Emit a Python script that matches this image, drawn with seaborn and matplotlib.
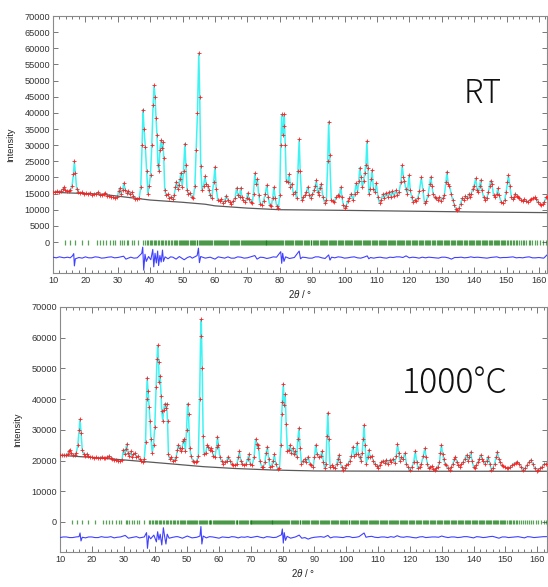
import numpy as np
import pandas as pd
import matplotlib
matplotlib.use("Agg")
import matplotlib.pyplot as plt
import seaborn as sns
from matplotlib.ticker import MultipleLocator

# ---------------- data (2theta in degrees, intensity in thousands of counts) -------------
rt_x = [10.0, 10.6, 11.2, 11.8, 12.4, 13.0, 13.4, 13.8, 14.3, 14.8, 15.4, 15.9, 16.3, 16.6, 16.9, 17.3,
        17.8, 18.4, 19.0, 19.6, 20.2, 20.8, 21.4, 22.0, 22.6, 23.2, 23.8, 24.4, 25.0, 25.6, 26.2, 26.8,
        27.4, 28.0, 28.6, 29.2, 29.8, 30.3, 30.6, 31.0, 31.5, 31.9, 32.3, 32.8, 33.3, 33.8, 34.3, 34.8,
        35.4, 36.0, 36.6, 37.1, 37.5, 37.8, 38.1, 38.5, 38.9, 39.3, 39.7, 40.1, 40.5, 40.9, 41.2, 41.5,
        41.8, 42.1, 42.4, 42.7, 43.0, 43.3, 43.6, 43.9, 44.2, 44.5, 44.9, 45.4, 45.9, 46.4, 46.9, 47.4,
        47.8, 48.1, 48.5, 48.8, 49.2, 49.5, 49.9, 50.3, 50.7, 51.0, 51.4, 51.8, 52.3, 52.8, 53.3, 53.8,
        54.2, 54.6, 55.0, 55.3, 55.6, 56.0, 56.5, 56.9, 57.3, 57.7, 58.1, 58.5, 59.0, 59.6, 60.0, 60.4,
        60.9, 61.4, 61.9, 62.5, 63.0, 63.5, 64.0, 64.5, 65.0, 65.6, 66.2, 66.7, 67.1, 67.6, 67.9, 68.3,
        68.8, 69.4, 69.8, 70.1, 70.5, 71.0, 71.5, 71.9, 72.3, 72.7, 73.1, 73.5, 74.0, 74.5, 75.0, 75.5,
        76.0, 76.4, 76.9, 77.4, 77.8, 78.2, 78.6, 79.1, 79.6, 80.0, 80.3, 80.6, 80.9, 81.2, 81.4, 81.7,
        82.0, 82.4, 82.9, 83.3, 83.7, 84.2, 84.7, 85.2, 85.6, 86.0, 86.3, 86.8, 87.3, 87.8, 88.2, 88.7,
        89.1, 89.6, 90.1, 90.6, 91.0, 91.3, 91.7, 92.0, 92.3, 92.8, 93.3, 93.9, 94.4, 94.8, 95.1, 95.4,
        95.9, 96.4, 96.9, 97.4, 97.9, 98.4, 98.8, 99.2, 99.6, 100.0, 100.5, 101.0, 101.5, 102.1, 102.6,
        103.1, 103.6, 104.0, 104.4, 104.7, 105.1, 105.5, 105.9, 106.2, 106.6, 106.9, 107.2, 107.5, 107.9,
        108.2, 108.5, 108.9, 109.4, 109.8, 110.3, 110.8, 111.3, 111.8, 112.3, 112.8, 113.3, 113.8, 114.3,
        114.8, 115.3, 115.8, 116.3, 116.8, 117.4, 117.8, 118.2, 118.5, 118.9, 119.4, 119.9, 120.3, 120.7,
        121.1, 121.6, 122.1, 122.6, 123.1, 123.7, 124.2, 124.7, 125.2, 125.8, 126.3, 126.6, 127.0, 127.3,
        127.8, 128.3, 128.8, 129.3, 129.8, 130.3, 130.8, 131.3, 131.6, 132.0, 132.4, 132.9, 133.4, 133.9,
        134.4, 134.8, 135.3, 135.8, 136.3, 136.8, 137.3, 137.8, 138.3, 138.7, 139.1, 139.6, 140.0, 140.5,
        140.9, 141.3, 141.7, 142.0, 142.4, 142.9, 143.4, 143.9, 144.4, 144.8, 145.1, 145.5, 146.0, 146.5,
        147.0, 147.3, 147.7, 148.3, 148.9, 149.4, 149.9, 150.3, 150.6, 151.0, 151.5, 152.0, 152.3, 152.7,
        153.2, 153.6, 154.0, 154.5, 155.0, 155.5, 156.0, 156.6, 157.1, 157.6, 158.1, 158.7, 159.2, 159.7,
        160.2, 160.7, 161.2, 161.7, 162.2, 162.6]
rt_y = [15.6, 15.5, 15.7, 15.6, 15.8, 16.4, 17.0, 16.2, 15.8, 15.7, 16.0, 17.5, 21.0, 25.0, 21.5, 16.5,
        15.6, 15.2, 15.4, 14.9, 15.1, 14.8, 15.3, 14.7, 14.8, 14.9, 15.4, 14.6, 14.5, 14.9, 15.2, 14.4,
        14.3, 14.0, 13.8, 13.7, 13.9, 15.8, 16.7, 15.0, 16.2, 18.3, 16.0, 15.3, 15.8, 14.9, 15.4, 14.3,
        13.4, 13.2, 13.6, 17.0, 30.0, 41.0, 35.0, 29.5, 22.0, 15.0, 17.5, 20.7, 30.0, 42.5, 48.5, 45.0,
        38.5, 33.0, 24.0, 22.0, 28.5, 31.5, 29.0, 31.0, 26.0, 16.0, 14.5, 14.8, 13.6, 13.9, 13.2, 14.5,
        17.0, 18.7, 16.5, 17.8, 19.5, 21.5, 17.0, 22.0, 30.5, 24.0, 16.0, 14.8, 15.2, 13.9, 13.5, 17.5,
        28.5, 40.0, 58.5, 45.0, 23.5, 16.0, 17.5, 20.3, 18.0, 17.2, 16.0, 14.5, 13.5, 18.5, 23.3, 16.5,
        13.0, 12.8, 13.2, 12.2, 12.8, 14.4, 13.0, 12.4, 11.8, 12.6, 13.5, 16.8, 14.5, 13.8, 16.8, 14.0,
        12.9, 12.4, 13.5, 15.2, 13.2, 12.5, 12.0, 15.0, 21.3, 18.0, 19.5, 14.5, 11.8, 11.6, 12.8, 14.8,
        17.6, 14.0, 11.4, 11.2, 13.5, 17.0, 13.5, 11.0, 10.6, 14.5, 30.0, 39.5, 33.0, 36.0, 39.5, 30.0,
        19.0, 18.5, 21.0, 17.0, 18.0, 15.0, 15.5, 13.5, 22.0, 31.8, 22.0, 13.0, 13.8, 14.5, 15.5, 17.1,
        14.5, 13.6, 14.8, 16.0, 17.5, 19.2, 15.5, 14.5, 16.8, 18.0, 14.0, 12.0, 13.0, 25.0, 37.3, 27.0,
        13.0, 12.8, 12.5, 13.8, 14.5, 14.2, 17.0, 14.0, 11.5, 10.6, 11.2, 12.8, 13.5, 15.0, 13.0,
        15.0, 18.2, 15.5, 19.0, 23.0, 20.0, 17.0, 19.0, 21.3, 24.0, 31.3, 23.0, 15.0, 16.5,
        19.5, 22.3, 16.5, 15.5, 18.2, 14.0, 12.0, 13.0, 14.8, 13.5, 15.2, 14.0, 15.6, 13.8,
        15.8, 14.2, 16.0, 14.5, 15.5, 18.5, 23.8, 20.0, 19.0, 16.5, 15.0, 20.7, 16.0, 14.0,
        12.5, 13.0, 12.8, 13.5, 15.8, 20.0, 16.0, 12.0, 12.6, 14.5, 18.0, 20.2, 17.5, 15.0,
        14.0, 13.5, 13.0, 13.8, 12.8, 13.5, 14.5, 18.5, 21.8, 18.0, 17.5, 15.0, 13.0, 11.5,
        10.2, 9.9, 10.5, 11.8, 13.5, 13.0, 14.2, 13.5, 14.8, 14.0, 15.0, 16.5, 17.5, 19.7,
        16.0, 15.5, 17.5, 19.2, 16.0, 14.0, 13.0, 13.5, 15.5, 17.5, 19.0, 18.0, 14.5, 13.8,
        15.0, 16.6, 14.5, 12.5, 12.0, 13.0, 15.5, 18.5, 20.7, 17.5, 14.0, 13.2, 14.0, 15.0,
        14.2, 13.8, 13.5, 13.0, 12.6, 13.2, 12.8, 12.5, 12.9, 13.3, 13.6, 13.8, 13.3, 12.5,
        11.8, 11.5, 11.8, 12.5, 13.8, 14.0]

rt_bg_x = [10, 20, 25, 30, 35, 40, 50, 57, 60, 70, 76, 80, 90, 100, 120, 140, 162.5]
rt_bg_y = [15.4, 15.0, 14.8, 14.2, 13.6, 13.0, 12.3, 11.7, 11.2, 10.5, 10.2, 10.0, 9.9, 9.8, 9.55, 9.3, 9.1]

rt_diff_x = [10, 11, 12, 13.4, 14.5, 15.3, 16.0, 16.4, 16.6, 16.9, 18, 19, 20, 21, 22, 23, 24, 25, 26, 27,
             28, 29, 30, 31.8, 32.5, 34, 35, 36, 37.4, 37.7, 38.0, 38.4, 38.8, 39.5, 40.2, 40.8, 41.1,
             41.5, 41.9, 42.3, 42.6, 43.0, 43.4, 43.8, 44.1, 44.6, 45.5, 46.3, 47, 48, 49, 50.5, 51.5,
             52.3, 53, 54.5, 54.9, 55.2, 55.6, 57, 58.5, 60, 61, 62, 63, 64, 65, 66, 67, 68, 69, 70, 71,
             72.3, 73, 74, 75, 76, 77, 78, 79, 80.3, 80.6, 80.9, 81.3, 81.8, 83, 84.5, 86.0, 86.4, 87,
             88, 89, 90, 91, 92, 93, 94, 95.1, 95.5, 96, 97, 98, 99, 100, 101, 102, 103, 104, 105, 106,
             107, 107.5, 108, 109, 110, 111, 112, 113, 114, 115, 116, 117, 118, 119, 120, 121, 122, 123,
             124, 125, 126, 127, 128, 129, 130, 131, 132, 133, 134, 135, 136, 137, 138, 139, 140, 141,
             142, 143, 144, 145, 146, 147, 148, 149, 150, 151, 152, 153, 154, 155, 156, 157, 158, 159,
             160, 161.5, 162.5]
rt_diff_y = [-4.7, -4.9, -4.6, -4.9, -4.7, -4.9, -4.3, -3.6, -7.4, -5.2, -4.8, -5.0, -4.6, -4.9, -4.9,
             -4.6, -4.7, -5.0, -4.9, -4.7, -4.6, -4.9, -4.8, -4.4, -5.3, -4.7, -5.0, -4.9, -3.5, -1.6,
             -8.7, -3.8, -6.0, -4.5, -5.5, -2.3, -7.7, -3.5, -6.5, -2.8, -7.3, -4.2, -6.2, -2.5, -6.0,
             -4.6, -5.2, -4.6, -4.7, -5.3, -4.5, -5.5, -4.8, -4.5, -5.0, -4.2, -1.9, -6.4, -4.5, -5.0,
             -4.7, -5.3, -4.6, -4.8, -5.0, -4.6, -5.0, -5.0, -4.6, -4.7, -5.0, -4.9, -4.6, -4.2, -5.3,
             -4.7, -4.8, -5.1, -4.9, -4.6, -4.7, -3.0, -6.6, -3.5, -6.0, -4.6, -5.1, -4.8, -2.8, -5.2,
             -4.7, -4.8, -5.0, -5.0, -4.6, -4.6, -4.9, -5.1, -4.0, -5.6, -4.7, -4.9, -4.6, -4.7, -5.0,
             -4.9, -4.7, -4.6, -4.9, -5.0, -4.7, -4.3, -5.2, -4.8, -5.0, -4.8, -4.7, -4.9, -5.0, -4.7,
             -4.8, -4.6, -4.6, -4.8, -4.3, -4.9, -4.7, -4.8, -5.0, -4.7, -4.9, -4.7, -4.8, -4.9, -5.0,
             -4.7, -4.7, -4.9, -5.3, -4.8, -4.8, -4.7, -4.9, -4.8, -4.6, -4.8, -4.7, -4.8, -4.9, -5.0,
             -4.8, -4.7, -4.6, -4.9, -4.8, -4.8, -4.7, -4.6, -4.9, -4.8, -4.9, -4.7, -4.6, -4.9, -4.9,
             -4.8, -5.0, -4.0]

ht_x = [10.0, 10.6, 11.2, 11.8, 12.4, 12.8, 13.1, 13.5, 14.0, 14.6, 15.1, 15.6, 16.0, 16.3, 16.6, 17.0,
        17.5, 18.0, 18.4, 18.9, 19.5, 20.1, 20.7, 21.3, 21.9, 22.5, 23.1, 23.7, 24.3, 24.9, 25.4, 25.9,
        26.5, 27.1, 27.7, 28.3, 28.9, 29.5, 29.9, 30.3, 30.7, 31.0, 31.4, 31.8, 32.2, 32.6, 33.1, 33.6,
        34.0, 34.5, 35.0, 35.5, 36.0, 36.5, 36.9, 37.2, 37.4, 37.7, 38.0, 38.3, 38.6, 39.0, 39.4, 39.8,
        40.2, 40.5, 40.7, 41.0, 41.2, 41.5, 41.8, 42.0, 42.3, 42.6, 42.9, 43.2, 43.5, 43.8, 44.1, 44.5,
        45.0, 45.5, 46.0, 46.5, 46.9, 47.2, 47.6, 48.0, 48.4, 48.7, 49.1, 49.4, 49.8, 50.1, 50.4, 50.8,
        51.2, 51.7, 52.2, 52.6, 53.0, 53.5, 53.9, 54.2, 54.4, 54.7, 55.0, 55.3, 55.8, 56.3, 56.6, 57.0,
        57.4, 57.8, 58.2, 58.7, 59.2, 59.5, 59.8, 60.3, 60.8, 61.3, 61.8, 62.4, 62.9, 63.4, 64.0, 64.5,
        65.0, 65.6, 66.1, 66.4, 66.8, 67.3, 68.0, 68.5, 69.0, 69.4, 69.8, 70.4, 71.0, 71.5, 71.8, 72.1,
        72.4, 72.8, 73.4, 73.9, 74.4, 74.8, 75.2, 75.6, 76.0, 76.5, 77.0, 77.4, 77.8, 78.5, 79.0, 79.4,
        79.7, 79.9, 80.2, 80.5, 80.8, 81.1, 81.5, 81.9, 82.3, 82.7, 83.2, 83.6, 83.9, 84.4, 84.8, 85.1,
        85.5, 85.9, 86.4, 86.9, 87.4, 88.0, 88.5, 89.0, 89.6, 90.0, 90.4, 90.8, 91.4, 91.9, 92.4, 92.8,
        93.2, 93.6, 93.9, 94.2, 94.5, 94.9, 95.4, 95.9, 96.4, 97.0, 97.4, 97.7, 98.1, 98.5, 99.0, 99.5,
        100.0, 100.6, 101.1, 101.6, 102.1, 102.5, 103.0, 103.4, 103.8, 104.2, 104.6, 105.0, 105.3,
        105.6, 105.9, 106.3, 106.7, 107.1, 107.5, 108.0, 108.4, 108.9, 109.5, 110.0, 110.5, 111.0,
        111.6, 112.1, 112.6, 113.1, 113.6, 114.1, 114.7, 115.3, 115.7, 116.1, 116.5, 116.8, 117.3,
        117.8, 118.4, 118.9, 119.4, 120.0, 120.6, 121.2, 121.7, 122.1, 122.6, 123.1, 123.6, 124.2,
        124.7, 125.1, 125.5, 125.9, 126.4, 126.9, 127.4, 127.8, 128.3, 128.8, 129.3, 129.6, 129.9,
        130.3, 130.6, 131.0, 131.5, 132.0, 132.5, 133.0, 133.5, 134.0, 134.3, 134.7, 135.2, 135.7,
        136.2, 136.7, 137.2, 137.8, 138.2, 138.7, 139.1, 139.5, 140.0, 140.4, 140.9, 141.4, 141.8,
        142.2, 142.6, 143.0, 143.6, 144.1, 144.6, 145.1, 145.6, 146.1, 146.6, 147.1, 147.5, 147.9,
        148.4, 148.8, 149.4, 149.9, 150.4, 150.9, 151.5, 152.1, 152.6, 153.2, 153.8, 154.3, 154.9,
        155.6, 156.2, 156.8, 157.4, 158.0, 158.6, 159.2, 159.8, 160.4, 161.0, 161.6, 162.2, 162.8]
ht_y = [21.8, 21.7, 21.9, 21.8, 22.2, 23.0, 23.5, 22.3, 21.9, 21.8, 22.5, 25.0, 30.0, 33.5, 29.0, 23.5,
        22.0, 21.6, 22.2, 21.4, 21.0, 21.2, 20.8, 21.0, 20.8, 20.9, 21.2, 20.9, 20.7, 21.3, 21.5, 20.8,
        20.6, 20.3, 20.2, 20.0, 19.9, 20.2, 23.5, 22.0, 23.8, 25.4, 22.5, 21.5, 23.0, 21.3, 22.0, 22.5,
        21.0, 21.5, 20.5, 19.8, 19.6, 20.5, 26.0, 40.0, 47.0, 42.5, 37.5, 33.0, 27.0, 22.5, 25.0, 31.0,
        44.0, 53.0, 57.5, 52.0, 45.5, 47.5, 41.0, 36.0, 33.0, 36.5, 38.5, 37.0, 38.5, 33.0, 22.0, 20.5,
        21.0, 20.0, 20.3, 21.0, 23.5, 25.0, 24.0, 23.0, 24.0, 26.5, 27.0, 23.0, 30.0, 38.5, 35.0, 24.0,
        21.5, 20.0, 19.6, 19.5, 20.0, 21.5, 40.0, 60.5, 66.0, 50.0, 28.0, 22.0, 22.5, 25.0, 24.5, 23.5,
        24.0, 23.0, 21.5, 21.0, 24.5, 27.8, 25.0, 21.0, 19.8, 19.0, 19.5, 20.0, 21.3, 20.0, 19.0, 18.5,
        18.4, 19.0, 21.0, 23.0, 20.0, 19.0, 18.5, 19.0, 20.5, 22.1, 19.0, 18.5, 21.0, 27.0, 25.5, 24.0,
        25.0, 20.0, 18.0, 17.8, 19.5, 22.5, 24.5, 20.5, 18.0, 18.3, 20.0, 22.0, 19.0, 17.2, 17.5, 25.0,
        35.0, 39.0, 45.0, 38.0, 41.5, 32.0, 23.0, 23.5, 25.0, 22.5, 24.0, 22.0, 23.0, 21.0, 27.0, 30.6,
        24.0, 19.0, 20.0, 20.5, 19.5, 21.3, 19.0, 18.5, 18.0, 21.0, 25.1, 22.0, 21.0, 21.5, 23.0, 19.5,
        17.5, 19.0, 28.0, 35.6, 27.0, 18.0, 18.5, 17.8, 17.5, 19.0, 20.5, 21.8, 19.5, 18.0, 17.0, 17.6,
        18.5, 19.0, 20.0, 21.5, 24.5, 21.5, 22.0, 25.8, 22.0, 21.0, 20.0, 22.5, 27.0,
        31.6, 25.0, 19.0, 21.0, 23.5, 21.0, 21.5, 20.0, 19.0, 18.2, 17.5, 18.5, 19.5,
        20.0, 19.2, 20.3, 19.0, 20.2, 19.5, 20.5, 19.3, 21.5, 25.3, 22.5, 20.0, 21.0,
        20.5, 22.4, 19.0, 18.0, 17.0, 17.8, 19.5, 23.1, 19.5, 17.5, 18.0, 19.0, 21.5,
        24.0, 21.0, 19.0, 17.5, 17.8, 18.2, 17.3, 17.0, 17.6, 18.0, 19.5, 22.5, 25.1,
        22.0, 20.5, 19.0, 18.5, 17.5, 17.0, 17.8, 19.0, 20.5, 21.3, 19.5, 18.5, 18.0,
        18.7, 19.5, 20.5, 21.8, 20.0, 21.0, 22.8, 20.0, 18.0, 17.5, 18.5, 19.5, 20.5,
        21.8, 20.5, 20.0, 19.0, 20.0, 21.3, 19.0, 17.0, 17.5, 19.0, 21.0, 22.9, 20.5,
        19.5, 18.5, 18.2, 17.8, 17.5, 17.5, 17.8, 18.5, 19.0, 19.3, 19.6, 19.0, 18.0,
        17.0, 17.5, 18.5, 19.5, 20.2, 19.0, 17.5, 16.6, 17.0, 17.5, 18.0, 18.8, 19.0]

ht_bg_x = [10, 20, 30, 37, 45, 55, 65, 77, 90, 120, 163]
ht_bg_y = [21.7, 21.0, 20.2, 19.6, 18.9, 18.0, 17.4, 16.9, 16.6, 16.5, 16.5]

ht_diff_x = [10, 11, 12, 13, 14, 15, 16.0, 16.3, 16.6, 17, 18, 19, 20, 21, 22, 23, 24, 25, 26, 27, 28, 29,
             30.5, 31.5, 33, 34, 35, 36.5, 37.2, 37.5, 37.9, 38.5, 39.5, 40.3, 40.7, 41.1, 41.5, 42.0,
             42.5, 42.9, 43.3, 43.7, 44.3, 45.5, 46.5, 47, 48.5, 50, 51.5, 53, 54.0, 54.3, 54.6, 55, 56,
             57, 58, 59, 60, 61, 62, 63, 64, 65, 66, 67, 68, 69, 70, 71, 72, 73, 74, 75, 76, 77, 78,
             79.6, 79.9, 80.2, 80.5, 80.9, 81.4, 82.5, 84, 85.2, 86, 87, 88, 89, 90, 91, 92, 93, 94.2,
             95, 96, 97, 98, 99, 100, 101, 102, 103, 104, 105.6, 106.2, 107, 108, 109, 110, 111, 112,
             113, 114, 115, 116, 117, 118, 119, 120, 121, 122, 123, 124, 125, 126, 127, 128, 129, 130,
             131, 132, 133, 134, 135, 136, 137, 138, 139, 140, 141, 142, 143, 144, 145, 146, 147, 148,
             149, 150, 151, 152, 153, 154, 155, 156, 157, 158, 159, 160, 161, 162, 163]
ht_diff_y = [-5.1, -4.9, -4.9, -5.1, -5.1, -4.9, -4.8, -3.6, -6.2, -5.0, -5.2, -4.9, -4.9, -5.1, -5.1,
             -4.8, -5.0, -5.0, -4.8, -5.2, -5.0, -4.9, -4.4, -5.3, -5.0, -4.8, -5.2, -4.9, -3.5, -8.6,
             -4.5, -5.5, -4.3, -6.5, -3.2, -5.8, -4.0, -7.5, -1.9, -4.8, -7.2, -4.0, -5.3, -5.0, -4.8,
             -4.8, -5.3, -4.6, -5.2, -5.0, -4.6, -1.5, -7.2, -4.6, -5.2, -4.8, -4.9, -5.1, -5.3, -4.9,
             -5.0, -5.1, -4.8, -4.9, -5.2, -4.9, -5.0, -4.8, -5.1, -4.9, -4.7, -5.0, -5.2, -4.8, -4.9,
             -5.1, -5.0, -4.2, -2.3, -6.9, -3.5, -6.0, -4.7, -5.3, -4.9, -4.3, -5.3, -5.1, -5.6, -5.2,
             -5.0, -4.9, -4.8, -5.0, -4.4, -5.2, -4.9, -4.9, -5.0, -5.1, -4.8, -4.8, -5.1, -5.0, -4.8,
             -3.6, -5.0, -4.8, -4.7, -5.0, -5.1, -4.9, -4.9, -5.1, -4.8, -5.0, -4.5, -4.9, -5.0, -4.8,
             -4.9, -5.1, -5.2, -4.9, -4.8, -5.1, -5.0, -4.9, -4.9, -5.0, -4.6, -4.9, -5.1, -4.9, -4.9,
             -5.1, -5.0, -4.8, -4.8, -5.0, -5.2, -4.8, -4.9, -5.1, -5.0, -4.8, -4.7, -5.0, -5.3, -4.9,
             -4.9, -5.1, -5.0, -4.9, -4.8, -5.0, -5.2, -4.8, -4.9, -5.1, -5.0, -4.9, -4.8, -4.8]

reflections = [13.7, 15.2, 16.8, 18.8, 20.9, 23.5, 24.5, 25.5, 26.4, 27.6, 28.6, 29.2, 30.7, 31.2, 31.8,
               32.7, 33.2, 34.3, 34.9, 36.3,
               37.9, 38.4, 38.9, 39.3, 39.8, 40.2, 40.6, 41.1, 41.5, 41.9, 42.4, 42.8, 43.3, 43.6, 44.1,
               44.6, 45.0, 45.5, 45.9, 46.3, 46.8, 47.2, 47.7, 48.0, 48.4, 48.8, 49.1, 49.4, 49.8, 50.1,
               50.4, 50.8, 51.1, 51.5, 51.8, 52.2, 52.5, 52.9, 53.2, 53.6, 53.9, 54.3, 54.6, 55.0, 55.3,
               55.7, 56.0, 56.3, 56.7, 57.0, 57.3, 57.6, 58.0, 58.3, 58.6, 58.9, 59.2, 59.6, 59.9, 60.2,
               60.5, 60.8, 61.2, 61.5, 61.8, 62.1, 62.5, 62.8, 63.1, 63.5, 63.8, 64.1, 64.5, 64.8, 65.2,
               65.5, 65.8, 66.2, 66.5, 66.9, 67.2, 67.5, 67.9, 68.2, 68.5, 68.9, 69.2, 69.6, 69.9, 70.2,
               70.5, 70.8, 71.1, 71.4, 71.7, 72.0, 72.3, 72.6, 72.9, 73.2, 73.5, 73.8, 74.1, 74.4, 74.7,
               75.0, 75.3, 75.6, 75.9, 76.2, 76.5, 76.8, 77.1, 77.4, 77.7, 78.0, 78.3, 78.6, 78.9, 79.2,
               79.5, 79.8, 80.1, 80.4, 80.8, 81.1, 81.5, 81.8, 82.1, 82.5, 82.8, 83.2, 83.5, 83.9, 84.2,
               84.6, 84.9, 85.3, 85.6, 86.0, 86.3, 86.7, 87.0, 87.4, 87.7, 88.1, 88.4, 88.8, 89.1, 89.5,
               89.8, 90.2, 90.5, 90.9, 91.2, 91.6, 91.9, 92.3, 92.6, 93.0, 93.3, 93.7, 94.0, 94.4, 94.7,
               95.1, 95.4, 95.8, 96.1, 96.5, 96.8, 97.2, 97.5, 97.9, 98.2, 98.6, 98.9, 99.3, 99.6,
               100.0, 100.3, 100.7, 101.0, 101.4, 101.7, 102.1, 102.4, 102.8, 103.1, 103.5, 103.8,
               104.2, 104.5, 104.9, 105.2, 105.6, 105.9, 106.3, 106.6, 107.0, 107.3, 107.7, 108.0,
               108.4, 108.7, 109.1, 109.4, 109.8, 110.1, 110.5, 110.8, 111.2, 111.5, 111.9, 112.2,
               112.6, 112.9, 113.3, 113.6, 114.0, 114.3, 114.7, 115.0, 115.4, 115.7, 116.1, 116.4,
               116.8, 117.1, 117.5, 117.8, 118.2, 118.5, 118.9, 119.2, 119.6, 119.9, 120.3, 120.7,
               121.0, 121.4, 121.8, 122.1, 122.5, 122.9, 123.2, 123.6, 124.0, 124.3, 124.7, 125.1,
               125.4, 125.8, 126.2, 126.5, 126.9, 127.3, 127.6, 128.0, 128.4, 128.7, 129.1, 129.5,
               129.8, 130.2, 130.6, 130.9, 131.3, 131.7, 132.0, 132.4, 132.8, 133.1, 133.5, 133.9,
               134.2, 134.6, 135.0, 135.3, 135.7, 136.1, 136.4, 136.8, 137.2, 137.5, 137.9, 138.3,
               138.6, 139.0, 139.4, 139.7, 140.1, 140.5, 140.8, 141.2, 141.6, 141.9, 142.3, 142.7,
               143.0, 143.4, 143.8, 144.1, 144.5, 144.9, 145.2, 145.6, 146.0, 146.3, 146.7, 147.1,
               147.4, 147.8, 148.2, 148.5, 148.9, 149.3, 149.6, 150.0, 150.5, 151.0, 151.4, 151.9,
               152.4, 152.8, 153.3, 153.8, 154.4, 155.0, 155.5, 156.1, 156.8, 157.4, 158.0, 158.8,
               159.5, 160.3, 161.2, 162.2, 162.8]

panel_labels = ["RT", "1000°C"]

# ---------------- style ----------------
sns.set_theme(style="ticks")
plt.rcParams["font.family"] = ["Liberation Sans", "DejaVu Sans"]
plt.rcParams["mathtext.fontset"] = "custom"
plt.rcParams["mathtext.rm"] = "Liberation Sans"
plt.rcParams["mathtext.it"] = "Liberation Sans:italic"

fig = plt.figure(figsize=(5.48, 5.87), dpi=100)
ax1 = fig.add_axes([53 / 548, 1 - 273 / 587, 494 / 548, 257 / 587])
ax2 = fig.add_axes([60 / 548, 1 - 552 / 587, 487 / 548, 245 / 587])


def panel(ax, ox, oy, bx, by, dx, dy, tlo, thi, ylim, xmax, ystep, label, lx, ly, lsize):
    obs = pd.DataFrame({"x": ox, "y": np.array(oy) * 1000})
    bg = pd.DataFrame({"x": bx, "y": np.array(by) * 1000})
    df = pd.DataFrame({"x": dx, "y": np.array(dy) * 1000})
    sns.lineplot(data=obs, x="x", y="y", ax=ax, color="#3ff3f3", lw=1.1,
                 sort=False, estimator=None, zorder=2)
    sns.lineplot(data=bg, x="x", y="y", ax=ax, color="#5a5a5a", lw=0.9,
                 sort=False, estimator=None, zorder=3)
    sns.scatterplot(data=obs, x="x", y="y", ax=ax, marker="+", color="#ff2020",
                    s=6, linewidth=0.6, zorder=4)
    ax.vlines(reflections, tlo, thi, color="#087508", alpha=0.68, lw=0.9, zorder=2)
    sns.lineplot(data=df, x="x", y="y", ax=ax, color="#4040ff", lw=0.8,
                 sort=False, estimator=None, zorder=3)

    ax.set_xlim(10, xmax)
    ax.set_ylim(*ylim)
    ax.xaxis.set_major_locator(MultipleLocator(10))
    ax.xaxis.set_minor_locator(MultipleLocator(2))
    ax.set_yticks(np.arange(0, 70001, ystep))
    ax.set_yticklabels([str(int(v)) for v in np.arange(0, 70001, ystep)])
    ax.tick_params(axis="both", which="both", direction="in", top=True, right=True,
                   colors="#777777", labelcolor="#333333", labelsize=6.6, width=0.7, pad=2)
    ax.tick_params(axis="x", which="major", length=4)
    ax.tick_params(axis="x", which="minor", length=2.2)
    ax.tick_params(axis="y", which="major", length=3.5)
    for s in ax.spines.values():
        s.set_color("#8a8a8a")
        s.set_linewidth(0.8)
    ax.set_xlabel(r"$\mathit{2\theta}$ / °", fontsize=7, color="#222222", labelpad=2.5)
    ax.set_ylabel("Intensity", fontsize=6.6, color="#222222", labelpad=6.5)
    ax.text(lx, ly, label, fontsize=lsize, ha="center", va="center", color="#111111",
            family=["Noto Sans CJK JP", "DejaVu Sans"], fontweight="light")


panel(ax1, rt_x, rt_y, rt_bg_x, rt_bg_y, rt_diff_x, rt_diff_y, -1000, 600,
      (-9600, 70000), 162.5, 5000, panel_labels[0], 142.6, 46000, 23)
panel(ax2, ht_x, ht_y, ht_bg_x, ht_bg_y, ht_diff_x, ht_diff_y, -800, 700,
      (-9800, 70000), 163.1, 10000, panel_labels[1], 134.2, 45300, 24.5)

fig.savefig("out.png", dpi=100)
